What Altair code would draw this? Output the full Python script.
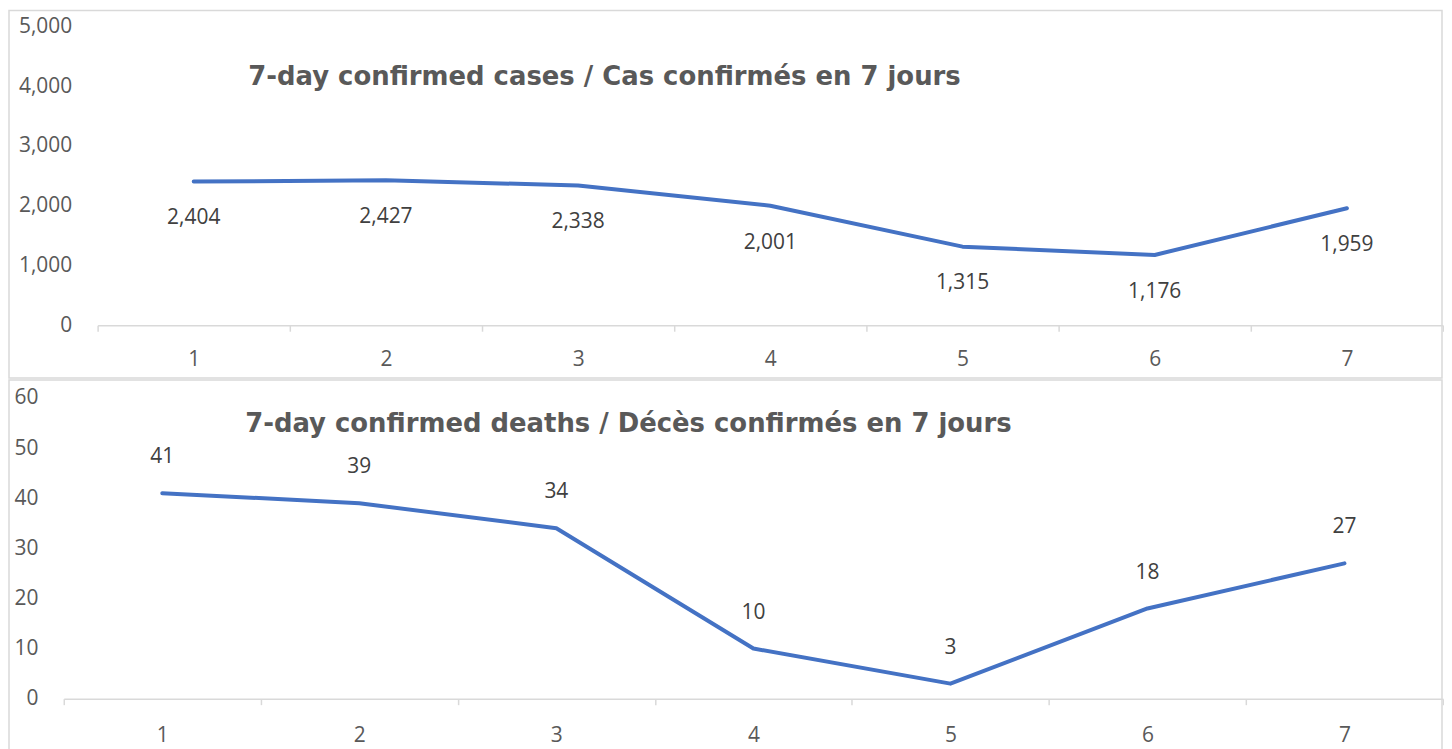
import altair as alt
import pandas as pd

weeks = ["1", "2", "3", "4", "5", "6", "7"]
cases = [2404, 2427, 2338, 2001, 1315, 1176, 1959]
deaths = [41, 39, 34, 10, 3, 18, 27]
cases_title = "7-day confirmed cases / Cas confirmés en 7 jours"
deaths_title = "7-day confirmed deaths / Décès confirmés en 7 jours"
cases_ticks = [0, 1000, 2000, 3000, 4000, 5000]
deaths_ticks = [0, 10, 20, 30, 40, 50, 60]

df_c = pd.DataFrame({"week": weeks, "value": cases})
df_d = pd.DataFrame({"week": weeks, "value": deaths})

LINE = "#4472C4"
GRID = "#d9d9d9"
AXTXT = "#595959"
LBL = "#404040"
FONT = "Open Sans"
TFONT = "DejaVu Sans"
W = 1385


def panel(df, ymax, ticks, title, h, xstart, box, title_xy, label_dy, fmt, xpad):
    xenc = alt.X("week:N", sort=weeks, title=None,
                 scale=alt.Scale(type="band", paddingInner=0, paddingOuter=0,
                                 range=[xstart, W]),
                 axis=alt.Axis(labelAngle=0, domainColor=GRID, domainWidth=1.5,
                               tickColor=GRID, tickWidth=1.5, tickSize=6,
                               tickBand="extent", labelColor=AXTXT,
                               labelFontSize=21, labelFont=FONT,
                               labelPadding=xpad, grid=False, zindex=1))
    yenc = alt.Y("value:Q", title=None,
                 scale=alt.Scale(domain=[0, ymax], nice=False),
                 axis=alt.Axis(values=ticks, format=fmt, domain=False, ticks=False,
                               tickSize=0, grid=False, labelColor=AXTXT,
                               labelFontSize=21, labelFont=FONT, labelPadding=26,
                               offset=-xstart, zindex=1))
    base = alt.Chart(df).encode(x=xenc, y=yenc)
    border = alt.Chart(pd.DataFrame({"a": [0]})).mark_rect(
        fillOpacity=0, stroke=GRID, strokeWidth=1.5
    ).encode(x=alt.value(box[0]), x2=alt.value(box[1]),
             y=alt.value(box[2]), y2=alt.value(box[3]))
    line = base.mark_line(color=LINE, strokeWidth=4, strokeCap="round",
                          strokeJoin="round")
    labels = base.mark_text(fontSize=21, font=FONT, color=LBL, dy=label_dy).encode(
        text=alt.Text("value:Q", format=fmt))
    ttl = alt.Chart(pd.DataFrame({"t": [title]})).mark_text(
        font=TFONT, fontSize=26, fontWeight="bold", color=AXTXT
    ).encode(text="t:N", x=alt.value(title_xy[0]), y=alt.value(title_xy[1]))
    return alt.layer(border, line, labels, ttl).properties(width=W, height=h)


top = panel(df_c, 5000, cases_ticks, cases_title, 300, 34,
            (-55, 1384, -16, 353), (543, 51), 37, ",.0f", 17)
bottom = panel(df_d, 60, deaths_ticks, deaths_title, 302, 0,
               (-55, 1384, -18, 360), (567, 26), -36, "d", 20)

chart = alt.vconcat(top, bottom, spacing=0).properties(
    padding=0
).configure_view(stroke=None)

chart.save("out.html", embed_options={"renderer": "svg", "actions": False})
